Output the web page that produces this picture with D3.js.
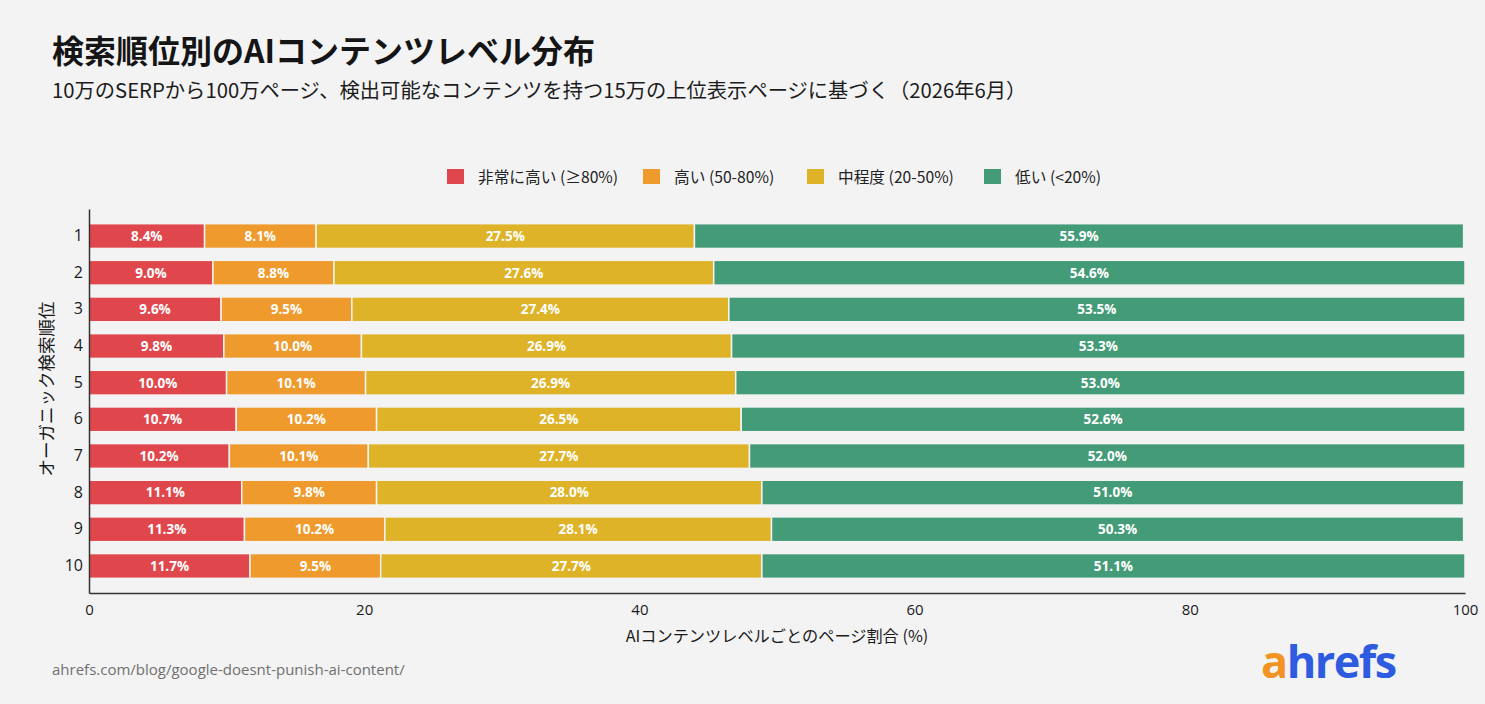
<!DOCTYPE html>
<html>
<head>
<meta charset="utf-8">
<script src="https://cdn.jsdelivr.net/npm/d3@7"></script>
<style>
  html, body { margin: 0; padding: 0; background: #f3f3f4; }
  svg { display: block; font-family: "Noto Sans CJK JP", "Noto Sans", sans-serif; }
</style>
</head>
<body>
<svg id="chart" width="1485" height="704"></svg>
<script>
// data
const ranks = ["1", "2", "3", "4", "5", "6", "7", "8", "9", "10"]
const levels = ["非常に高い (≥80%)", "高い (50-80%)", "中程度 (20-50%)", "低い (<20%)"]
const veryHigh = [8.4, 9.0, 9.6, 9.8, 10.0, 10.7, 10.2, 11.1, 11.3, 11.7]
const high     = [8.1, 8.8, 9.5, 10.0, 10.1, 10.2, 10.1, 9.8, 10.2, 9.5]
const medium   = [27.5, 27.6, 27.4, 26.9, 26.9, 26.5, 27.7, 28.0, 28.1, 27.7]
const low      = [55.9, 54.6, 53.5, 53.3, 53.0, 52.6, 52.0, 51.0, 50.3, 51.1]
const xTicks = [0, 20, 40, 60, 80, 100]
const colors = ["#e0474c", "#ef9a2d", "#deb327", "#449b78"]

const svg = d3.select("#chart")
const margin = {left: 89, right: 1465, top: 209, bottom: 593}

// build rows for the stack
const series = [veryHigh, high, medium, low]
const rows = ranks.map((r, i) => {
    const o = {rank: r}
    levels.forEach((l, k) => { o[l] = series[k][i] })
    return o
})
const stacked = d3.stack().keys(levels)(rows)

const x = d3.scaleLinear().domain([0, 100]).range([margin.left, margin.right])
const y = d3.scaleBand().domain(ranks).range([margin.top, margin.bottom])
    .paddingInner(0.324).paddingOuter(0.4)

// title + subtitle
svg.append("text")
    .attr("x", 52).attr("y", 63)
    .attr("font-size", 32).attr("font-weight", 700).attr("fill", "#151515")
    .text("検索順位別のAIコンテンツレベル分布")
svg.append("text")
    .attr("x", 52).attr("y", 98)
    .attr("font-size", 20.3).attr("fill", "#1c1c1c")
    .text("10万のSERPから100万ページ、検出可能なコンテンツを持つ15万の上位表示ページに基づく（2026年6月）")

// legend
const legendX = [447, 643, 807, 984]
const legend = svg.append("g").selectAll("g")
    .data(levels).enter().append("g")
    .attr("transform", (d, i) => "translate(" + legendX[i] + ",169)")
legend.append("rect")
    .attr("width", 17).attr("height", 15)
    .attr("fill", (d, i) => colors[i])
legend.append("text")
    .attr("x", 31).attr("y", 13.5)
    .attr("font-size", 15.7).attr("fill", "#222")
    .text(d => d)

// bars
const layer = svg.append("g").selectAll("g")
    .data(stacked).enter().append("g")
    .attr("fill", (d, i) => colors[i])

layer.selectAll("rect")
    .data(d => d).enter().append("rect")
    .attr("x", d => x(d[0]))
    .attr("y", d => y(d.data.rank))
    .attr("width", d => x(d[1]) - x(d[0]))
    .attr("height", y.bandwidth())
    .attr("stroke", "#f3f3f4")
    .attr("stroke-width", 1.5)

layer.selectAll("text")
    .data(d => d.map(v => ({v: v}))).enter().append("text")
    .attr("x", d => (x(d.v[0]) + x(d.v[1])) / 2)
    .attr("y", d => y(d.v.data.rank) + y.bandwidth() / 2)
    .attr("dy", "0.36em")
    .attr("text-anchor", "middle")
    .attr("font-size", 13.5).attr("font-weight", 700)
    .attr("fill", "#fff")
    .attr("font-family", "'Open Sans', 'Noto Sans', sans-serif")
    .text(d => (d.v[1] - d.v[0]).toFixed(1) + "%")

// axes
const xAxis = svg.append("g")
    .attr("transform", "translate(0," + margin.bottom + ")")
    .call(d3.axisBottom(x).tickValues(xTicks).tickSize(0).tickPadding(11))
xAxis.select(".domain").attr("stroke", "#333").attr("stroke-width", 1.5)
xAxis.selectAll("text").attr("font-size", 15).attr("fill", "#1a1a1a")
    .attr("font-family", "'Open Sans', 'Noto Sans', sans-serif")

const yAxis = svg.append("g")
    .attr("transform", "translate(" + margin.left + ",0)")
    .call(d3.axisLeft(y).tickSize(0).tickPadding(6))
yAxis.select(".domain").attr("stroke", "#333").attr("stroke-width", 1.5)
yAxis.selectAll("text").attr("font-size", 16).attr("fill", "#1a1a1a")
    .attr("font-family", "'Open Sans', 'Noto Sans', sans-serif")

// axis titles
svg.append("text")
    .attr("x", 777).attr("y", 642)
    .attr("text-anchor", "middle")
    .attr("font-size", 16.2).attr("fill", "#1a1a1a")
    .text("AIコンテンツレベルごとのページ割合 (%)")
svg.append("text")
    .attr("transform", "translate(53,389) rotate(-90)")
    .attr("text-anchor", "middle")
    .attr("font-size", 17.5).attr("fill", "#1a1a1a")
    .text("オーガニック検索順位")

// footer
svg.append("text")
    .attr("x", 52).attr("y", 675)
    .attr("font-size", 15).attr("fill", "#707070")
    .attr("font-family", "'Open Sans', 'Noto Sans', sans-serif")
    .text("ahrefs.com/blog/google-doesnt-punish-ai-content/")

const logo = svg.append("text")
    .attr("x", 1261).attr("y", 678)
    .attr("font-size", 45).attr("font-weight", 700)
    .attr("letter-spacing", -1.5)
    .attr("font-family", "'Open Sans', 'Noto Sans', sans-serif")
logo.append("tspan").attr("fill", "#f39324").text("a")
logo.append("tspan").attr("fill", "#2f5be0").text("hrefs")
</script>
</body>
</html>
